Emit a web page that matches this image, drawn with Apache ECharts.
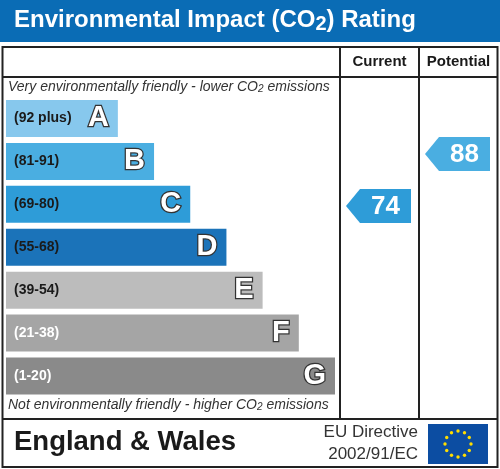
<!DOCTYPE html>
<html>
<head>
<meta charset="utf-8">
<script src="https://cdn.jsdelivr.net/npm/echarts@6/dist/echarts.min.js"></script>
<style>
html, body { margin: 0; padding: 0; background: #fff; }
#chart { width: 500px; height: 469px; }
</style>
</head>
<body>
<div id="chart"></div>
<script>
// rating bands, top (best) to bottom (worst)
var bands = ['A', 'B', 'C', 'D', 'E', 'F', 'G'];
var bandLabels = ['(92 plus)', '(81-91)', '(69-80)', '(55-68)', '(39-54)', '(21-38)', '(1-20)'];
var bandRanges = [[92, 100], [81, 91], [69, 80], [55, 68], [39, 54], [21, 38], [1, 20]];
// bar lengths as a share of the full band width
var bandLengths = [34, 45, 56, 67, 78, 89, 100];
var bandColors = ['#87c8ed', '#4aaee1', '#2e9cd8', '#1b73b9', '#bcbcbc', '#a5a5a5', '#8a8a8a'];
var labelColors = ['#1a1a1a', '#1a1a1a', '#1a1a1a', '#1a1a1a', '#1a1a1a', '#ffffff', '#ffffff'];

var columns = ['Current', 'Potential'];
var currentRating = 74;
var potentialRating = 88;

var FONT = '"Liberation Sans", Arial, sans-serif';
var BAR_H = 37;

function bandOf(v) {
  for (var i = 0; i < bandRanges.length; i++) {
    if (v >= bandRanges[i][0]) return i;
  }
  return bandRanges.length - 1;
}

var ratings = [currentRating, potentialRating];
var arrowData = ratings.map(function (v, i) {
  return [i, bandOf(v), v];
});

var dom = document.getElementById('chart');
var myChart = echarts.init(dom, null, { renderer: 'canvas' });

var option = {
  animation: false,
  backgroundColor: '#fff',
  grid: [
    { left: 6, top: 97, width: 329, height: 300.5 },
    { left: 340, top: 97, width: 158, height: 300.5 }
  ],
  xAxis: [
    { gridIndex: 0, type: 'value', min: 0, max: 100, show: false },
    { gridIndex: 1, type: 'category', data: columns, show: false }
  ],
  yAxis: [
    { gridIndex: 0, type: 'category', data: bands, inverse: true, show: false },
    { gridIndex: 1, type: 'category', data: bands, inverse: true, show: false }
  ],
  series: [
    {
      type: 'bar',
      xAxisIndex: 0,
      yAxisIndex: 0,
      barWidth: BAR_H,
      silent: true,
      data: bandLengths.map(function (v, i) {
        return {
          value: v,
          itemStyle: { color: bandColors[i] },
          label: { color: labelColors[i] }
        };
      }),
      label: {
        show: true,
        position: 'insideLeft',
        distance: 8,
        fontFamily: FONT,
        fontSize: 14,
        fontWeight: 'bold',
        formatter: function (p) { return bandLabels[p.dataIndex]; }
      }
    },
    {
      type: 'bar',
      xAxisIndex: 0,
      yAxisIndex: 0,
      barWidth: BAR_H,
      barGap: '-100%',
      silent: true,
      itemStyle: { color: 'rgba(0,0,0,0)' },
      data: bandLengths,
      label: {
        show: true,
        position: 'insideRight',
        distance: 9,
        fontFamily: FONT,
        fontSize: 29,
        fontWeight: 'bold',
        color: '#fff',
        textBorderColor: '#333',
        textBorderWidth: 2.5,
        formatter: function (p) { return bands[p.dataIndex]; }
      }
    },
    {
      type: 'custom',
      xAxisIndex: 1,
      yAxisIndex: 1,
      silent: true,
      data: arrowData,
      renderItem: function (params, api) {
        var col = api.value(0);
        var band = api.value(1);
        var v = api.value(2);
        var c = api.coord([col, band]);
        var colW = api.size([1, 0])[0];
        var r = bandRanges[band];
        var frac = (r[1] - v) / (r[1] - r[0]);
        var cy = c[1] - BAR_H / 2 + frac * BAR_H;
        var h = 34;
        var x0 = c[0] - colW / 2 + 6;
        var x1 = c[0] + colW / 2 - 8;
        var tip = 14;
        var color = bandColors[bandOf(v)];
        return {
          type: 'group',
          children: [
            {
              type: 'polygon',
              shape: {
                points: [
                  [x0, cy], [x0 + tip, cy - h / 2], [x1, cy - h / 2],
                  [x1, cy + h / 2], [x0 + tip, cy + h / 2]
                ]
              },
              style: { fill: color }
            },
            {
              type: 'text',
              style: {
                text: String(v),
                x: (x0 + tip + x1) / 2,
                y: cy + 1,
                align: 'center',
                verticalAlign: 'middle',
                fill: '#fff',
                font: 'bold 26px ' + FONT
              }
            }
          ]
        };
      }
    }
  ],
  graphic: [
    { type: 'rect', shape: { x: 0, y: 0, width: 500, height: 42 }, style: { fill: '#0a6cb5' } },
    {
      type: 'text', left: 14, top: 7,
      style: {
        text: '{a|Environmental Impact (CO}{s|2}{a|) Rating}',
        rich: {
          a: { fontFamily: FONT, fontSize: 24, fontWeight: 'bold', fill: '#fff', lineHeight: 27 },
          s: { fontFamily: FONT, fontSize: 20, fontWeight: 'bold', fill: '#fff', lineHeight: 27, padding: [7, 0, 0, 0] }
        }
      }
    },
    // table frame
    { type: 'rect', shape: { x: 2.5, y: 47, width: 495, height: 420 }, style: { fill: 'none', stroke: '#222', lineWidth: 2 } },
    { type: 'line', shape: { x1: 2, y1: 77, x2: 498, y2: 77 }, style: { stroke: '#222', lineWidth: 2 } },
    { type: 'line', shape: { x1: 2, y1: 419, x2: 498, y2: 419 }, style: { stroke: '#222', lineWidth: 2 } },
    { type: 'line', shape: { x1: 340, y1: 47, x2: 340, y2: 419 }, style: { stroke: '#222', lineWidth: 2 } },
    { type: 'line', shape: { x1: 419, y1: 47, x2: 419, y2: 419 }, style: { stroke: '#222', lineWidth: 2 } },
    {
      type: 'text', x: 379.5, y: 62,
      style: { text: 'Current', align: 'center', verticalAlign: 'middle', fill: '#1a1a1a', font: 'bold 15px ' + FONT }
    },
    {
      type: 'text', x: 458.5, y: 62,
      style: { text: 'Potential', align: 'center', verticalAlign: 'middle', fill: '#1a1a1a', font: 'bold 15px ' + FONT }
    },
    {
      type: 'text', left: 8, top: 80,
      style: {
        text: '{a|Very environmentally friendly - lower CO}{s|2}{a| emissions}',
        rich: {
          a: { fontFamily: FONT, fontSize: 14, fontStyle: 'italic', fill: '#333', lineHeight: 16 },
          s: { fontFamily: FONT, fontSize: 10, fontStyle: 'italic', fill: '#333', lineHeight: 16, padding: [4, 0, 0, 0] }
        }
      }
    },
    {
      type: 'text', left: 8, top: 398,
      style: {
        text: '{a|Not environmentally friendly - higher CO}{s|2}{a| emissions}',
        rich: {
          a: { fontFamily: FONT, fontSize: 14, fontStyle: 'italic', fill: '#333', lineHeight: 16 },
          s: { fontFamily: FONT, fontSize: 10, fontStyle: 'italic', fill: '#333', lineHeight: 16, padding: [4, 0, 0, 0] }
        }
      }
    },
    // footer
    {
      type: 'text', x: 14, y: 442,
      style: { text: 'England & Wales', verticalAlign: 'middle', fill: '#1a1a1a', font: 'bold 27.5px ' + FONT }
    },
    {
      type: 'text', x: 418, y: 432,
      style: { text: 'EU Directive', align: 'right', verticalAlign: 'middle', fill: '#333', font: '17px ' + FONT }
    },
    {
      type: 'text', x: 418, y: 454,
      style: { text: '2002/91/EC', align: 'right', verticalAlign: 'middle', fill: '#333', font: '17px ' + FONT }
    },
    { type: 'rect', shape: { x: 428, y: 424, width: 60, height: 40 }, style: { fill: '#0c4da2' } }
  ]
};

// EU stars around the flag centre
for (var k = 0; k < 12; k++) {
  var ang = k * Math.PI / 6;
  option.graphic.push({
    type: 'circle',
    shape: { cx: 458 + 13 * Math.sin(ang), cy: 444 - 13 * Math.cos(ang), r: 1.7 },
    style: { fill: '#ffdd00' }
  });
}

myChart.setOption(option);
</script>
</body>
</html>
